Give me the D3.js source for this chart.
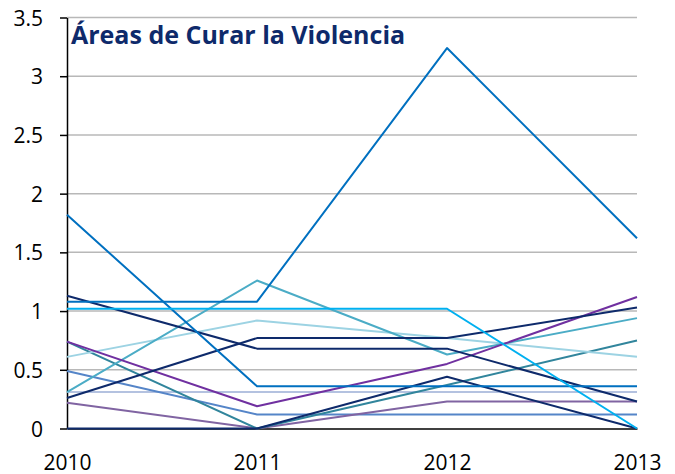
<!DOCTYPE html>
<html>
<head>
<meta charset="utf-8">
<script src="https://cdn.jsdelivr.net/npm/d3@7"></script>
<style>
  html, body { margin: 0; padding: 0; background: #fff; }
  svg { display: block; }
</style>
</head>
<body>
<svg id="chart" width="675" height="474"></svg>
<script>
const years = ["2010", "2011", "2012", "2013"];
const yTicks = [0, 0.5, 1, 1.5, 2, 2.5, 3, 3.5];
const title = "Áreas de Curar la Violencia";

const serieA = [1.08, 1.08, 3.24, 1.62];
const serieB = [1.82, 0.36, 0.36, 0.36];
const serieC = [1.02, 1.02, 1.02, 0];
const serieD = [1.13, 0.68, 0.68, 0.23];
const serieE = [0.26, 0.77, 0.77, 1.03];
const serieF = [0.31, 1.26, 0.63, 0.94];
const serieG = [0.61, 0.92, 0.77, 0.61];
const serieH = [0.74, 0.19, 0.55, 1.12];
const serieI = [0.74, 0, 0.37, 0.75];
const serieJ = [0.49, 0.12, 0.12, 0.12];
const serieK = [0.31, 0.31, 0.31, 0.31];
const serieL = [0.22, 0, 0.23, 0.23];
const serieM = [0, 0, 0.44, 0];

const series = [
  { values: serieK, color: "#B4C2E0" },
  { values: serieJ, color: "#5585C8" },
  { values: serieL, color: "#8064A2" },
  { values: serieI, color: "#31859C" },
  { values: serieG, color: "#9DD3E3" },
  { values: serieF, color: "#4BACC6" },
  { values: serieH, color: "#7030A0" },
  { values: serieD, color: "#0E2A6B" },
  { values: serieE, color: "#0E2A6B" },
  { values: serieM, color: "#0E2A6B" },
  { values: serieB, color: "#0070C0" },
  { values: serieA, color: "#0070C0" },
  { values: serieC, color: "#00B0F0" }
];

const svg = d3.select("#chart");
const x = d3.scalePoint().domain(years).range([67, 637]);
const y = d3.scaleLinear().domain([0, 3.5]).range([428.5, 17.5]);

// gridlines
svg.append("g")
  .selectAll("line")
  .data(yTicks.filter(d => d > 0))
  .join("line")
  .attr("x1", x("2010")).attr("x2", x("2013"))
  .attr("y1", d => y(d)).attr("y2", d => y(d))
  .attr("stroke", "#B8B8B8").attr("stroke-width", 1.5);

// y axis
const yAxis = svg.append("g")
  .attr("transform", `translate(${x("2010")},0)`)
  .call(d3.axisLeft(y).tickValues(yTicks).tickSize(7).tickSizeOuter(0).tickPadding(17)
        .tickFormat(d => String(d)));
yAxis.select(".domain").attr("stroke", "#000").attr("stroke-width", 1.5);
yAxis.selectAll(".tick line").attr("stroke", "#000").attr("stroke-width", 1.5);
yAxis.selectAll("text")
  .attr("font-family", "'Open Sans', sans-serif").attr("font-size", 21).attr("fill", "#000")
  .attr("dy", "0.36em");

// x axis
const xAxis = svg.append("g")
  .attr("transform", `translate(0,${y(0)})`)
  .call(d3.axisBottom(x).tickSize(0).tickSizeOuter(0));
xAxis.select(".domain").attr("stroke", "#000").attr("stroke-width", 1.5);
xAxis.selectAll("text")
  .attr("font-family", "'Open Sans', sans-serif").attr("font-size", 21).attr("fill", "#000")
  .attr("y", 41).attr("dy", "0");

// lines
const line = d3.line().x((d, i) => x(years[i])).y(d => y(d));
svg.append("g")
  .selectAll("path")
  .data(series)
  .join("path")
  .attr("d", d => line(d.values))
  .attr("fill", "none")
  .attr("stroke", d => d.color)
  .attr("stroke-width", 2)
  .attr("stroke-linejoin", "round");

// title
svg.append("text")
  .attr("x", 71).attr("y", 44)
  .attr("font-family", "'Open Sans', sans-serif").attr("font-weight", "bold")
  .attr("font-size", 25).attr("fill", "#0E2A6B")
  .text(title);
</script>
</body>
</html>
